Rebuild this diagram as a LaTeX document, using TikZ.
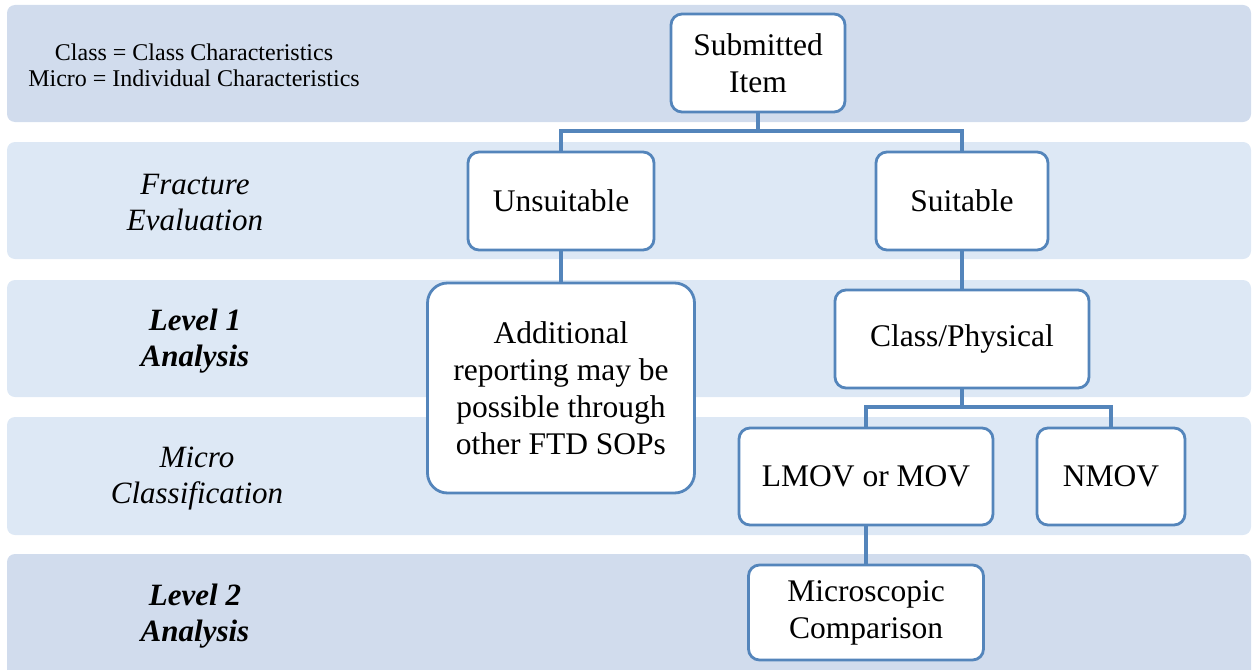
\documentclass[tikz,border=0pt]{standalone}
\usepackage{fontspec}
\setmainfont{Liberation Serif}
\begin{document}
\begin{tikzpicture}[x=1pt,y=-1pt,
  bandD/.style={fill=bandDark,draw=none,rounded corners=8pt},
  bandL/.style={fill=bandLight,draw=none,rounded corners=8pt},
  box/.style={draw=boxBlue,line width=2.8pt,fill=white,rounded corners=11pt,inner sep=0pt,align=center,font=\fontsize{31.5}{37}\selectfont},
  lab/.style={align=center,font=\fontsize{31}{36}\selectfont\itshape},
  conn/.style={draw=boxBlue,line width=3.3pt}
]
\definecolor{bandDark}{RGB}{209,220,237}
\definecolor{bandLight}{RGB}{221,232,245}
\definecolor{boxBlue}{RGB}{84,133,187}
\useasboundingbox (0,0) rectangle (1252,669);
% bands
\fill[bandD] (7,5) rectangle (1251,122);
\fill[bandL] (7,142) rectangle (1251,259);
\fill[bandL] (7,280) rectangle (1251,397);
\fill[bandL] (7,417) rectangle (1251,535);
\fill[bandD] (7,554) rectangle (1251,680);
% legend
\node[align=center,font=\fontsize{24}{26}\selectfont] (legend) at (194,65) {Class = Class Characteristics\\Micro = Individual Characteristics};
% row labels
\node[lab] (l1) at (195,203) {Fracture\\Evaluation};
\node[lab,font=\fontsize{31}{36}\selectfont\bfseries\itshape] (l2) at (195,341) {Level 1\\Analysis};
\node[lab] (l3) at (197,479) {Micro\\Classification};
\node[lab,font=\fontsize{31}{36}\selectfont\bfseries\itshape] (l4) at (195,616) {Level 2\\Analysis};
% connectors
\coordinate (j1) at (758,131);
\coordinate (j2) at (962,407);
% boxes
\node[box,minimum width=174pt,minimum height=98pt] (sub) at (758,63) {Submitted\\Item};
\node[box,minimum width=186pt,minimum height=98pt] (uns) at (561,201) {Unsuitable};
\node[box,minimum width=172pt,minimum height=98pt] (suit) at (962,201) {Suitable};
\node[box,minimum width=267pt,minimum height=210pt,rounded corners=20pt] (add) at (561,388) {Additional\\reporting may be\\possible through\\other FTD SOPs};
\node[box,minimum width=254pt,minimum height=98pt] (cls) at (962,339) {Class/Physical};
\node[box,minimum width=254pt,minimum height=97pt] (lmov) at (866,476.5) {LMOV or MOV};
\node[box,minimum width=148pt,minimum height=97pt] (nmov) at (1111,476.5) {NMOV};
\node[box,minimum width=235pt,minimum height=95pt] (mic) at (866,612.5) {Microscopic\\Comparison};
\draw[conn] (sub.south) -- (j1) -| (uns.north);
\draw[conn] (j1) -| (suit.north);
\draw[conn] (uns.south) -- (add.north);
\draw[conn] (suit.south) -- (cls.north);
\draw[conn] (cls.south) -- (j2) -| (lmov.north);
\draw[conn] (j2) -| (nmov.north);
\draw[conn] (lmov.south) -- (mic.north);
\end{tikzpicture}
\end{document}
